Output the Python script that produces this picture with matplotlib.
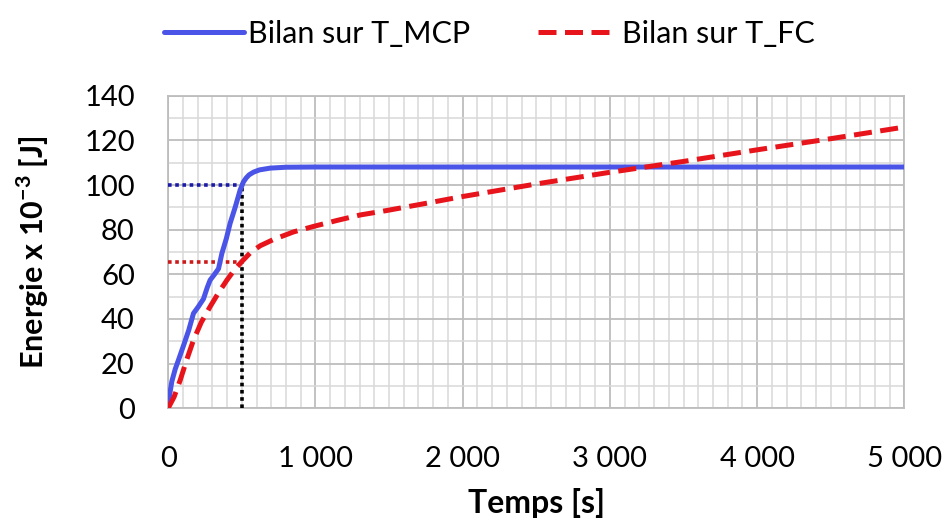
import numpy as np
import matplotlib
matplotlib.use("Agg")
import matplotlib.pyplot as plt
from matplotlib.ticker import MultipleLocator, FuncFormatter

plt.rcParams['font.family'] = ['Lato', 'DejaVu Sans']

# Bilan d'énergie (x 10^-3 J) en fonction du temps (s)
t_mcp = [0, 10, 25, 48, 75, 104, 140, 172, 205, 240, 265, 285, 315, 342, 365,
         395, 421, 455, 489, 511, 530, 550, 580, 620, 693, 800, 1000, 2000,
         3000, 4000, 5000]
e_mcp = [0, 6, 12, 17.5, 22.5, 28, 35, 42.5, 45.5, 49, 54, 57.4, 60, 62.5,
         69.4, 76, 82.9, 90, 97.8, 101.4, 103.2, 104.6, 105.8, 106.8, 107.6,
         108, 108.1, 108.1, 108.1, 108.1, 108.1]

t_fc = [0, 40, 82, 125, 172, 225, 285, 340, 399, 450, 500, 560, 625, 715, 851,
        989, 1150, 1304, 1485, 1750, 1994, 2500, 2978, 3500, 4000, 4500, 5000]
e_fc = [0, 5, 12.6, 21.5, 30.5, 38.5, 45.5, 51.5, 57.4, 62, 65.7, 69.8, 72.8,
        75.6, 79, 81.5, 84.2, 86.6, 88.6, 91.8, 94.8, 100.5, 105.5, 110.6,
        115.8, 120.8, 126]

# Repères pointillés à t = 500 s
t_ref = 500
e_ref_mcp = 100
e_ref_fc = 65.7

fig = plt.figure(figsize=(9.5, 5.18), dpi=100)
ax = fig.add_axes([0.177, 0.212, 0.775, 0.603])

ax.plot(t_mcp, e_mcp, color='#4a55e8', lw=3.6, label='Bilan sur T_MCP',
        solid_capstyle='round', solid_joinstyle='round', zorder=4)
ax.plot(t_fc, e_fc, color='#e8141b', lw=3.6, ls=(0, (3.6, 1.7)),
        label='Bilan sur T_FC', zorder=4)

ax.plot([0, t_ref], [e_ref_mcp, e_ref_mcp], color='#1a1aa8', lw=2.6, ls=(0, (1, 1)), zorder=3)
ax.plot([0, t_ref], [e_ref_fc, e_ref_fc], color='#cc1a1a', lw=2.6, ls=(0, (1, 1)), zorder=3)
ax.plot([t_ref, t_ref], [0, e_ref_mcp], color='black', lw=2.6, ls=(0, (1, 1)), zorder=3)

ax.set_xlim(0, 5000)
ax.set_ylim(0, 140)
ax.xaxis.set_major_locator(MultipleLocator(1000))
ax.xaxis.set_minor_locator(MultipleLocator(100))
ax.yaxis.set_major_locator(MultipleLocator(20))
ax.yaxis.set_minor_locator(MultipleLocator(10))
ax.xaxis.set_major_formatter(FuncFormatter(lambda v, p: f"{int(v):,}".replace(",", " ")))

ax.grid(which='major', color='#bdbdbd', lw=1.3)
ax.grid(which='minor', color='#d9d9d9', lw=1.1)
ax.set_axisbelow(True)
for s in ax.spines.values():
    s.set_color('#bdbdbd')
    s.set_linewidth(1.3)

ax.tick_params(which='both', length=0)
ax.tick_params(axis='x', labelsize=21, pad=27)
ax.tick_params(axis='y', labelsize=21, pad=24)

ax.set_xlabel('Temps [s]', fontsize=23, fontweight='bold', labelpad=12)
ax.set_ylabel('Energie x 10$^{\\mathregular{-3}}$ [J]', fontsize=22, fontweight='bold', labelpad=24)

fig.legend(loc='upper center', bbox_to_anchor=(0.515, 1.015), ncol=2, frameon=False,
           fontsize=22, handlelength=2.6, handletextpad=0.15, columnspacing=2.2)

fig.savefig('out.png', dpi=100)
